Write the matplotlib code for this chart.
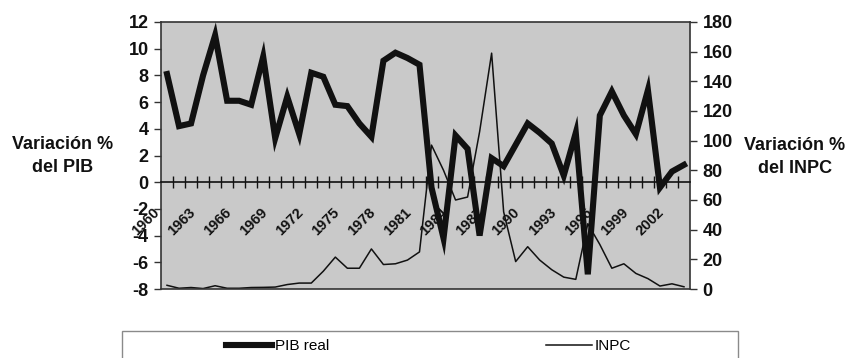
import numpy as np
import matplotlib
matplotlib.use("Agg")
import matplotlib.pyplot as plt
import matplotlib.transforms as mtransforms
from matplotlib.lines import Line2D
from matplotlib.patches import Rectangle

plt.rcParams["font.family"] = ["Liberation Sans", "DejaVu Sans"]
plt.rcParams["axes.unicode_minus"] = False

# --- data ---
years = list(range(1960, 2004))
pib_real = [8.1, 4.2, 4.4, 8.0, 11.0, 6.1, 6.1, 5.8, 9.4, 3.3,
            6.4, 3.6, 8.2, 7.9, 5.8, 5.7, 4.4, 3.4, 9.1, 9.7,
            9.3, 8.8, -0.4, -4.2, 3.5, 2.5, -4.0, 1.8, 1.2, 2.8,
            4.4, 3.7, 2.9, 0.5, 3.7, -6.9, 5.0, 6.8, 5.0, 3.6,
            6.9, -0.4, 0.8, 1.3]
inpc = [2.5, 0.5, 1.0, 0.3, 2.2, 0.5, 0.5, 1.0, 1.1, 1.3,
        3.0, 4.0, 4.0, 12.0, 21.5, 14.0, 14.0, 27.0, 16.5, 17.0,
        19.5, 25.0, 97.0, 80.0, 60.0, 62.0, 106.0, 159.0, 52.0, 18.5,
        28.5, 19.5, 13.0, 8.0, 6.5, 44.0, 30.0, 14.0, 17.0, 10.5,
        7.0, 2.0, 3.5, 1.5]
pib_ticks = list(range(-8, 13, 2))
inpc_ticks = list(range(0, 181, 20))
label_years = years[::3]

W, H = 849, 358
BG = "#c9c9c9"
INK = "#111111"

fig = plt.figure(figsize=(W / 100, H / 100), dpi=100)
ax = fig.add_axes([161 / W, 1 - 289 / H, 529 / W, 267 / H])
ax2 = ax.twinx()

# left axis (PIB) drawn above the right one
ax.set_zorder(2)
ax2.set_zorder(1)
ax.patch.set_visible(False)
ax2.patch.set_visible(True)
ax2.patch.set_facecolor(BG)

x = np.arange(len(years))
ax2.plot(x, inpc, color=INK, lw=1.1)
ax.plot(x, pib_real, color=INK, lw=4.4, solid_joinstyle="miter")

ax.set_xlim(-0.5, len(years) - 0.5)
ax.set_ylim(-8, 12)
ax2.set_ylim(0, 180)
ax.set_yticks(pib_ticks)
ax2.set_yticks(inpc_ticks)

# category axis crossing at zero, ticks between categories
ax.spines["bottom"].set_position(("data", 0))
ax.spines["bottom"].set_linewidth(1.2)
ax.spines["bottom"].set_color(INK)
ax.spines["top"].set_visible(False)
ax.spines["right"].set_visible(False)
ax.spines["left"].set_color("#333333")
ax.spines["left"].set_linewidth(1.2)
for s in ["top", "bottom", "right"]:
    ax2.spines[s].set_color("#333333")
    ax2.spines[s].set_linewidth(1.2)
ax2.spines["left"].set_visible(False)

ax.set_xticks(np.arange(0.5, len(years) - 1, 1))
ax.set_xticklabels([])
ax.tick_params(axis="x", direction="inout", length=8, width=1, color=INK)
ax.tick_params(axis="y", direction="out", length=5, width=1, color="#333333",
               labelsize=13, pad=4)
ax2.tick_params(axis="y", direction="out", length=5, width=1, color="#333333",
                labelsize=13, pad=4)
for lab in ax.get_yticklabels() + ax2.get_yticklabels():
    lab.set_fontweight("bold")
    lab.set_color(INK)

off = mtransforms.offset_copy(ax.transData, fig=fig, x=-10, y=-28, units="dots")
for yr in label_years:
    ax.text(years.index(yr), 0, str(yr), transform=off, rotation=45,
            rotation_mode="anchor", ha="right", va="center",
            fontsize=10.5, fontweight="bold", color=INK)

# axis titles
fig.text(63 / W, 1 - 156 / H, "Variación %\ndel PIB", ha="center", va="center",
         fontsize=13, fontweight="bold", color=INK, linespacing=1.4)
fig.text(795 / W, 1 - 157 / H, "Variación %\ndel INPC", ha="center", va="center",
         fontsize=13, fontweight="bold", color=INK, linespacing=1.4)

# legend box (cut by the bottom edge like the scan)
fig.patches.append(Rectangle((122 / W, -0.1), 616 / W, (H - 331) / H + 0.1,
                             transform=fig.transFigure, fill=False,
                             edgecolor="#8a8a8a", lw=1))
fig.legend(handles=[Line2D([], [], color=INK, lw=4.4)], labels=["PIB real"],
           loc="center left", bbox_to_anchor=(226 / W, 1 - 346 / H),
           frameon=False, handlelength=3.0, handletextpad=0.2, fontsize=11,
           borderpad=0, borderaxespad=0)
fig.legend(handles=[Line2D([], [], color=INK, lw=1.1)], labels=["INPC"],
           loc="center left", bbox_to_anchor=(546 / W, 1 - 346 / H),
           frameon=False, handlelength=3.0, handletextpad=0.2, fontsize=11,
           borderpad=0, borderaxespad=0)

fig.savefig("out.png", dpi=100)
